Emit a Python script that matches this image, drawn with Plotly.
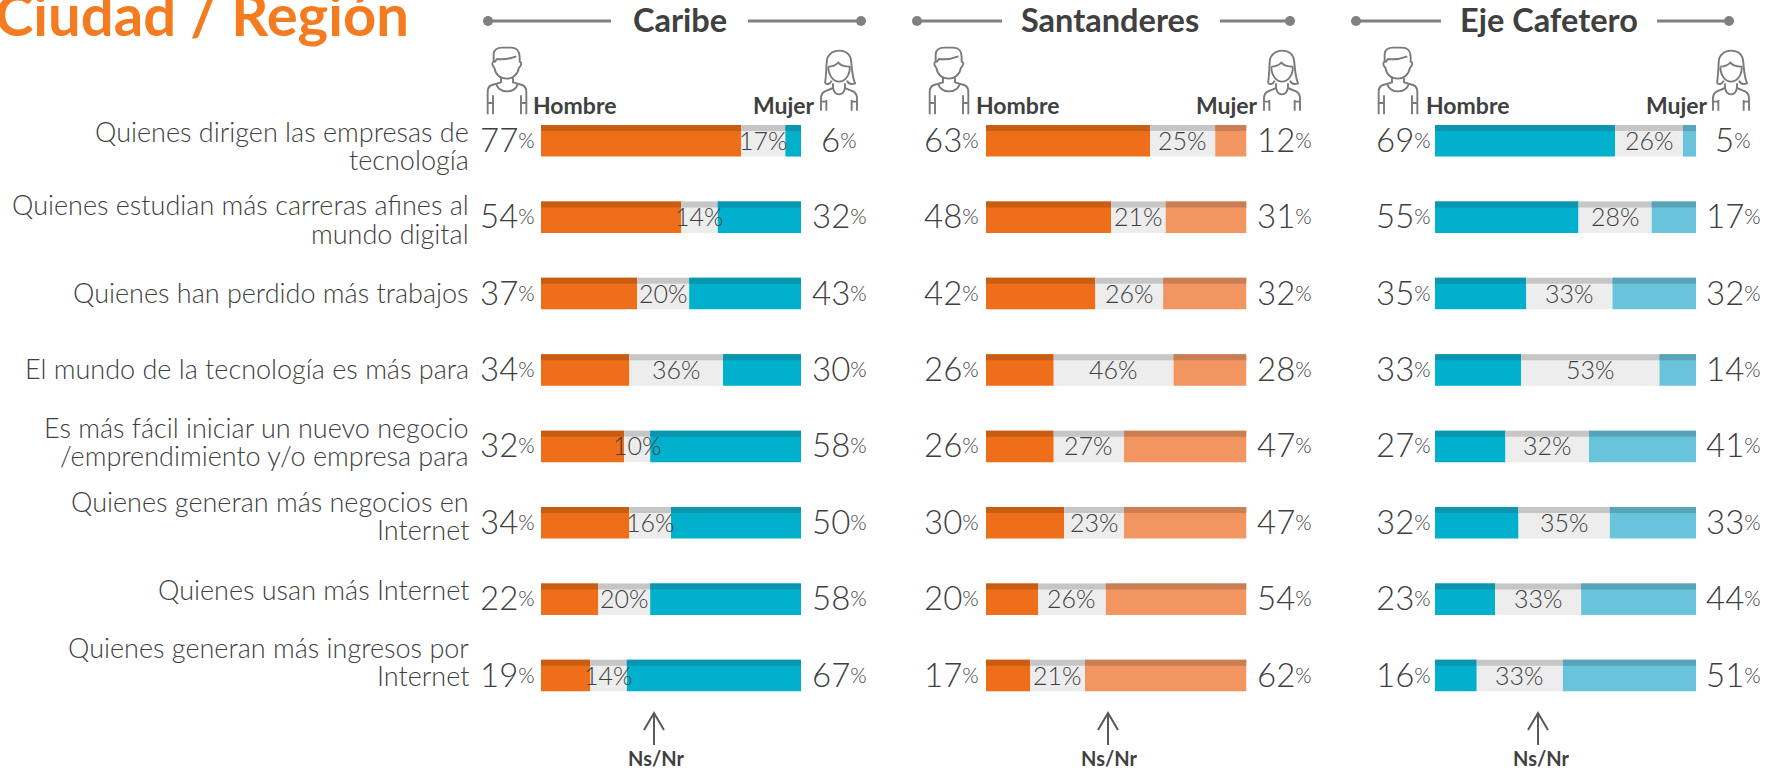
import plotly.graph_objects as go

W, H = 1775, 771

# ---------- data ----------
categories = [
    "Quienes dirigen las empresas de<br>tecnología",
    "Quienes estudian más carreras afines al<br>mundo digital",
    "Quienes han perdido más trabajos",
    "El mundo de la tecnología es más para",
    "Es más fácil iniciar un nuevo negocio<br>/emprendimiento y/o empresa para",
    "Quienes generan más negocios en<br>Internet",
    "Quienes usan más Internet",
    "Quienes generan más ingresos por<br>Internet",
]
regions = ["Caribe", "Santanderes", "Eje Cafetero"]
caribe_hombre = [77, 54, 37, 34, 32, 34, 22, 19]
caribe_nsnr = [17, 14, 20, 36, 10, 16, 20, 14]
caribe_mujer = [6, 32, 43, 30, 58, 50, 58, 67]
santanderes_hombre = [63, 48, 42, 26, 26, 30, 20, 17]
santanderes_nsnr = [25, 21, 26, 46, 27, 23, 26, 21]
santanderes_mujer = [12, 31, 32, 28, 47, 47, 54, 62]
eje_hombre = [69, 55, 35, 33, 27, 32, 23, 16]
eje_nsnr = [26, 28, 33, 53, 32, 35, 33, 33]
eje_mujer = [5, 17, 32, 14, 41, 33, 44, 51]
hombre = [caribe_hombre, santanderes_hombre, eje_hombre]
nsnr = [caribe_nsnr, santanderes_nsnr, eje_nsnr]
mujer = [caribe_mujer, santanderes_mujer, eje_mujer]

# ---------- style / layout ----------
FONT = "Lato"
DARK = "#404040"
LINE = "#808080"
ORANGE, ORANGE_D = "#EF6E1A", "#C85E14"
BLUE, BLUE_D = "#00B0CD", "#0A96AE"
GRAY, GRAY_D = "#EDEDED", "#C6C6C6"
LORANGE, LORANGE_D = "#F29560", "#C97F53"
LBLUE, LBLUE_D = "#68C4DA", "#58A3B8"
palette = [
    [(ORANGE, ORANGE_D), (GRAY, GRAY_D), (BLUE, BLUE_D)],
    [(ORANGE, ORANGE_D), (GRAY, GRAY_D), (LORANGE, LORANGE_D)],
    [(BLUE, BLUE_D), (GRAY, GRAY_D), (LBLUE, LBLUE_D)],
]
bar_left = [541, 986, 1435]
bar_right = [801, 1246.5, 1696]
left_val_right = [537, 981, 1433]
right_val_center = [839, 1284, 1733]
ROW0, PITCH = 140.8, 76.4
BAR_W, STRIP_W = 31.5 / PITCH, 6 / PITCH
label_y = [145.5, 219, 292.5, 368, 441, 515, 589, 661]
LINE_GAP = 28
header = [  # circle L, line end L, text center, line start R, circle R
    (488, 611, 680, 748, 861),
    (917, 1002, 1110, 1220, 1290),
    (1356, 1441, 1549, 1657, 1729),
]
hombre_x = [531, 974, 1424]
mujer_x = [817, 1260, 1710]
male_x = [487, 929, 1378]
female_x = [821, 1264, 1713]
arrow_x = [654, 1108, 1538]
ns_x = [656, 1109, 1541]

PX = lambda x: x / W
PY = lambda y: 1 - y / H


def txt(x, y, s, size, color=DARK, anchor="center", weight=400, align=None):
    return dict(
        x=PX(x), y=PY(y), xref="paper", yref="paper", text=s, showarrow=False,
        xanchor=anchor, yanchor="middle", align=align or anchor,
        font=dict(family=FONT, size=size, color=color, weight=weight),
    )


def pct(v):
    return f'{v}<span style="font-size:21px;baseline-shift:4px">%</span>'


MALE = [
    "M22,62 C14,55 15,45 20,44 L20,20 C22,8 30,2 45,2 L72,2 C90,2 98,15 98,30 L98,44 C105,46 104,56 96,62 C92,85 75,95 60,95 C42,95 26,85 22,62",
    "M22,46 L30,36 C45,38 70,35 88,28",
    "M42,92 L42,108 M78,92 L78,108",
    "M28,112 C38,140 82,140 92,112",
    "M42,106 L15,114 C6,117 2,125 2,135 L2,202 M78,106 L105,114 C114,117 118,125 118,135 L118,202",
    "M18,145 L18,202 M102,145 L102,202 M2,168 L18,168 M102,168 L118,168",
]
FEMALE = [
    "M12,100 C18,60 15,30 20,22 C28,8 40,2 54,2 C70,2 82,8 88,22 C94,40 90,70 102,100 C90,104 82,102 78,92 M12,100 C22,104 28,102 32,92",
    "M22,50 C35,50 45,45 52,38 C60,48 72,50 86,50 C88,75 72,95 54,95 C36,95 22,75 22,50",
    "M36,100 L36,112 C40,140 68,140 72,112 L72,100",
    "M36,114 L12,124 C4,128 0,135 0,145 L0,182 M72,114 L96,124 C104,128 108,135 108,145 L108,182",
    "M16,150 L16,182 M92,150 L92,182 M0,155 L16,155 M92,155 L108,155",
]


def icon(parts, ox, oy):
    out = []
    for p in parts:
        toks = p.replace("M", " M ").replace("L", " L ").replace("C", " C ").split()
        res = []
        for t in toks:
            if t in "MLC":
                res.append(t)
            else:
                a, b = t.split(",")
                res.append(f"{PX(ox + float(a) / 3):.5f},{PY(oy + float(b) / 3):.5f}")
        out.append(dict(type="path", path=" ".join(res), xref="paper", yref="paper",
                        line=dict(color="#7a7a7a", width=1.9)))
    return out


fig = go.Figure()
annotations, shapes = [], []
rows = list(range(len(categories)))

for p in range(3):
    xa = f"x{p + 1}" if p else "x"
    segs = [hombre[p], nsnr[p], mujer[p]]
    base = [0] * len(rows)
    for seg, (col, dark) in zip(segs, palette[p]):
        fig.add_bar(x=seg, y=rows, base=base, orientation="h", xaxis=xa, yaxis="y",
                    width=BAR_W, offset=-BAR_W / 2, marker=dict(color=col, line_width=0),
                    showlegend=False, hoverinfo="skip")
        fig.add_bar(x=seg, y=rows, base=base, orientation="h", xaxis=xa, yaxis="y",
                    width=STRIP_W, offset=-BAR_W / 2, marker=dict(color=dark, line_width=0),
                    showlegend=False, hoverinfo="skip")
        base = [b + s for b, s in zip(base, seg)]
    for i in rows:
        yc = ROW0 + PITCH * i
        annotations.append(txt(left_val_right[p], yc - 2, pct(hombre[p][i]), 33, anchor="right", weight=300))
        annotations.append(txt(right_val_center[p], yc - 2, pct(mujer[p][i]), 33, weight=300))
        annotations.append(dict(
            x=hombre[p][i] + nsnr[p][i] / 2, y=i, xref=xa, yref="y", text=f"{nsnr[p][i]}%",
            showarrow=False, xanchor="center", yanchor="middle", yshift=1,
            font=dict(family=FONT, size=25, color=DARK, weight=300),
        ))
    c1, l1, tc, l2, c2 = header[p]
    hy = 21
    for a, b in ((c1, l1), (l2, c2)):
        shapes.append(dict(type="line", xref="paper", yref="paper", x0=PX(a), x1=PX(b),
                           y0=PY(hy), y1=PY(hy), line=dict(color=LINE, width=3)))
    for c in (c1, c2):
        shapes.append(dict(type="circle", xref="paper", yref="paper", x0=PX(c - 5), x1=PX(c + 5),
                           y0=PY(hy + 5), y1=PY(hy - 5), fillcolor=LINE, line_width=0))
    annotations.append(txt(tc, 19, regions[p], 32.5, weight=700))
    annotations.append(txt(hombre_x[p], 105, "Hombre", 23, anchor="left", weight=700))
    annotations.append(txt(mujer_x[p], 105, "Mujer", 23, anchor="right", weight=700))
    shapes += icon(MALE, male_x[p], 47)
    shapes += icon(FEMALE, female_x[p], 50)
    ax = arrow_x[p]
    shapes.append(dict(type="path", xref="paper", yref="paper",
                       path=f"M{PX(ax):.5f},{PY(745):.5f} L{PX(ax):.5f},{PY(713):.5f} "
                            f"M{PX(ax - 10):.5f},{PY(730):.5f} L{PX(ax):.5f},{PY(713):.5f} L{PX(ax + 10):.5f},{PY(730):.5f}",
                       line=dict(color="#595959", width=2)))
    annotations.append(txt(ns_x[p], 758, "Ns/Nr", 20, weight=700))

for i, c in enumerate(categories):
    parts = c.split("<br>")
    for j, line in enumerate(parts):
        y = label_y[i] + (j - (len(parts) - 1) / 2) * LINE_GAP
        annotations.append(txt(471, y, line, 27, anchor="right", weight=300))

annotations.append(txt(411, 13, "Ciudad / Región", 58, color="#F47B20", anchor="right", weight=700))

layout = dict(
    width=W, height=H, margin=dict(l=0, r=0, t=0, b=0), barmode="overlay",
    paper_bgcolor="white", plot_bgcolor="white", showlegend=False,
    annotations=annotations, shapes=shapes,
    yaxis=dict(range=[(H - ROW0) / PITCH, -ROW0 / PITCH], domain=[0, 1], visible=False),
)
for p in range(3):
    key = f"xaxis{p + 1}" if p else "xaxis"
    layout[key] = dict(domain=[PX(bar_left[p]), PX(bar_right[p])], range=[0, 100], visible=False,
                       anchor="y", fixedrange=True)
fig.update_layout(**layout)
fig.write_html("out.html", config=dict(displayModeBar=False),
               post_script="document.body.style.margin='0';document.body.style.overflow='hidden';")
